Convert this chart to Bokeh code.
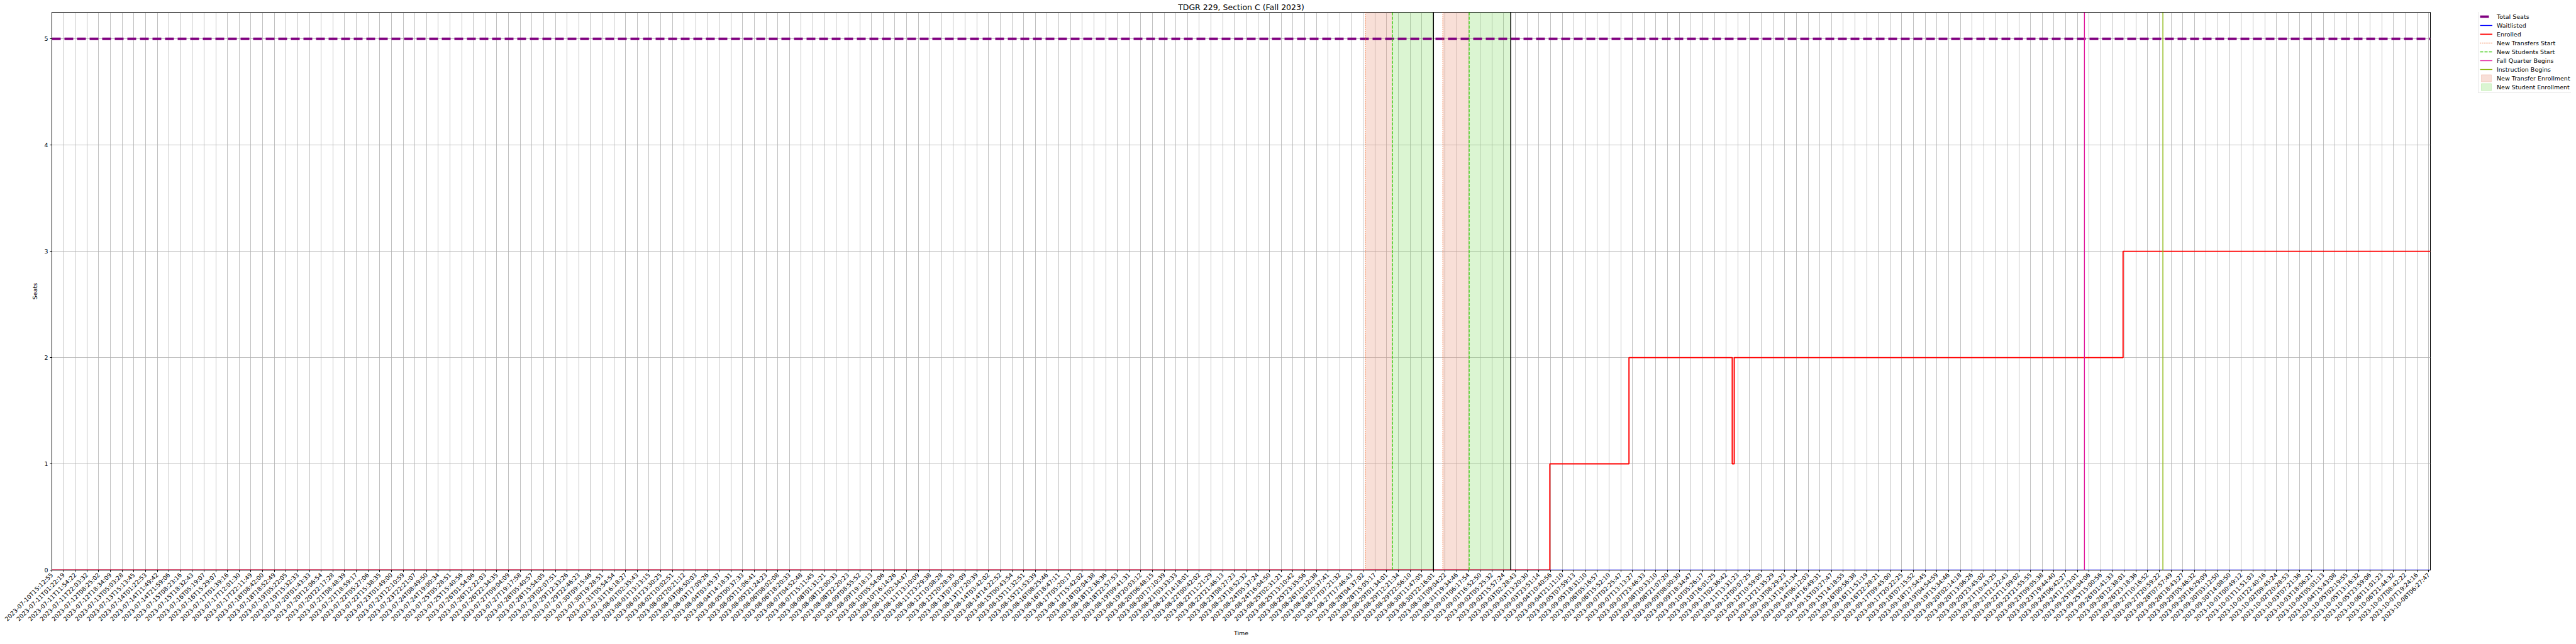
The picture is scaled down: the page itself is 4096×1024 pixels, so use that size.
import math
from bokeh.plotting import figure
from bokeh.layouts import row
from bokeh.models import (FixedTicker, Span, BoxAnnotation, Legend, LegendItem, Range1d)
from bokeh.embed import file_html
from bokeh.resources import INLINE

# ---------------- data ----------------
timestamps = [
    "2023-07-10T15:12:55", "2023-07-11T01:22:19", "2023-07-11T11:54:22", "2023-07-11T22:03:32",
    "2023-07-12T08:25:02", "2023-07-12T18:34:09", "2023-07-13T05:03:28", "2023-07-13T15:13:45",
    "2023-07-14T01:22:53", "2023-07-14T11:49:42", "2023-07-14T21:59:06", "2023-07-15T08:23:16",
    "2023-07-15T18:32:43", "2023-07-16T05:19:07", "2023-07-16T15:29:07", "2023-07-17T01:39:16",
    "2023-07-17T12:01:30", "2023-07-17T22:11:49", "2023-07-18T08:42:00", "2023-07-18T18:52:49",
    "2023-07-19T05:22:05", "2023-07-19T15:32:33", "2023-07-20T01:43:33", "2023-07-20T12:06:54",
    "2023-07-20T22:17:28", "2023-07-21T08:48:39", "2023-07-21T18:59:17", "2023-07-22T05:27:06",
    "2023-07-22T15:38:35", "2023-07-23T01:49:00", "2023-07-23T12:10:59", "2023-07-23T22:21:07",
    "2023-07-24T08:49:50", "2023-07-24T19:00:34", "2023-07-25T05:28:51", "2023-07-25T15:40:56",
    "2023-07-26T01:54:06", "2023-07-26T12:22:03", "2023-07-26T22:34:35", "2023-07-27T09:04:09",
    "2023-07-27T19:17:58", "2023-07-28T05:40:57", "2023-07-28T15:54:05", "2023-07-29T02:07:51",
    "2023-07-29T12:33:26", "2023-07-29T22:46:23", "2023-07-30T09:15:46", "2023-07-30T19:28:51",
    "2023-07-31T05:54:54", "2023-07-31T16:18:27", "2023-08-01T02:35:43", "2023-08-01T13:13:15",
    "2023-08-01T23:30:25", "2023-08-02T10:02:51", "2023-08-02T20:21:12", "2023-08-03T06:50:03",
    "2023-08-03T17:09:26", "2023-08-04T03:45:37", "2023-08-04T14:18:31", "2023-08-05T00:37:33",
    "2023-08-05T11:06:41", "2023-08-05T21:24:23", "2023-08-06T08:02:08", "2023-08-06T18:20:33",
    "2023-08-07T04:52:48", "2023-08-07T15:11:45", "2023-08-08T01:31:21", "2023-08-08T12:00:33",
    "2023-08-08T22:20:23", "2023-08-09T08:55:52", "2023-08-09T19:18:13", "2023-08-10T05:54:06",
    "2023-08-10T16:14:26", "2023-08-11T02:34:47", "2023-08-11T13:10:09", "2023-08-11T23:29:38",
    "2023-08-12T10:08:28", "2023-08-12T20:28:35", "2023-08-13T07:00:09", "2023-08-13T17:20:39",
    "2023-08-14T03:42:02", "2023-08-14T14:22:52", "2023-08-15T00:43:54", "2023-08-15T11:32:51",
    "2023-08-15T21:53:39", "2023-08-16T08:25:46", "2023-08-16T18:47:11", "2023-08-17T05:20:17",
    "2023-08-17T15:42:02", "2023-08-18T02:04:38", "2023-08-18T12:36:36", "2023-08-18T22:57:53",
    "2023-08-19T09:41:31", "2023-08-19T20:03:12", "2023-08-20T06:48:15", "2023-08-20T17:10:39",
    "2023-08-21T03:33:33", "2023-08-21T14:18:01", "2023-08-22T00:42:02", "2023-08-22T11:21:29",
    "2023-08-22T21:46:13", "2023-08-23T08:27:23", "2023-08-23T18:52:32", "2023-08-24T05:37:24",
    "2023-08-24T16:04:50", "2023-08-25T02:31:21", "2023-08-25T13:10:42", "2023-08-25T23:35:56",
    "2023-08-26T10:12:38", "2023-08-26T20:37:41", "2023-08-27T07:21:32", "2023-08-27T17:46:43",
    "2023-08-28T04:37:02", "2023-08-28T15:05:17", "2023-08-29T01:34:01", "2023-08-29T12:21:34",
    "2023-08-29T22:56:10", "2023-08-30T11:47:05", "2023-08-30T22:16:01", "2023-08-31T09:04:22",
    "2023-08-31T19:34:46", "2023-09-01T06:17:54", "2023-09-01T16:52:50", "2023-09-02T05:25:32",
    "2023-09-02T15:57:24", "2023-09-03T02:28:43", "2023-09-03T13:20:30", "2023-09-03T23:51:14",
    "2023-09-04T10:40:56", "2023-09-04T21:11:10", "2023-09-05T07:59:13", "2023-09-05T18:31:10",
    "2023-09-06T05:16:57", "2023-09-06T15:52:10", "2023-09-07T02:25:47", "2023-09-07T13:13:27",
    "2023-09-07T23:46:33", "2023-09-08T10:33:10", "2023-09-08T21:07:20", "2023-09-09T08:00:30",
    "2023-09-09T18:34:47", "2023-09-10T05:26:17", "2023-09-10T16:01:25", "2023-09-11T02:36:42",
    "2023-09-11T13:31:23", "2023-09-12T00:07:25", "2023-09-12T10:59:05", "2023-09-12T21:35:29",
    "2023-09-13T08:29:23", "2023-09-13T19:21:34", "2023-09-14T06:12:03", "2023-09-14T16:49:31",
    "2023-09-15T03:27:47", "2023-09-15T14:18:55", "2023-09-16T00:56:38", "2023-09-16T11:51:19",
    "2023-09-16T22:28:21", "2023-09-17T09:45:00", "2023-09-17T20:22:25", "2023-09-18T07:15:52",
    "2023-09-18T17:54:45", "2023-09-19T04:54:59", "2023-09-19T15:34:46", "2023-09-20T02:14:18",
    "2023-09-20T13:06:26", "2023-09-20T23:45:02", "2023-09-21T10:43:25", "2023-09-21T21:22:43",
    "2023-09-22T11:09:02", "2023-09-22T21:55:55", "2023-09-23T09:05:38", "2023-09-23T19:44:40",
    "2023-09-24T06:42:27", "2023-09-24T17:23:01", "2023-09-25T04:04:06", "2023-09-25T15:00:56",
    "2023-09-26T01:41:33", "2023-09-26T12:38:01", "2023-09-26T23:18:36", "2023-09-27T10:16:52",
    "2023-09-27T20:59:22", "2023-09-28T07:57:49", "2023-09-28T18:43:27", "2023-09-29T05:46:32",
    "2023-09-29T16:29:09", "2023-09-30T03:12:50", "2023-09-30T14:08:50", "2023-10-01T00:49:12",
    "2023-10-01T11:51:03", "2023-10-01T22:40:16", "2023-10-02T09:45:24", "2023-10-02T20:28:53",
    "2023-10-03T07:21:36", "2023-10-03T18:06:21", "2023-10-04T05:01:13", "2023-10-04T15:43:08",
    "2023-10-05T02:19:55", "2023-10-05T13:16:32", "2023-10-05T23:59:06", "2023-10-06T11:01:23",
    "2023-10-06T21:44:32", "2023-10-07T08:42:22", "2023-10-07T19:24:16", "2023-10-08T06:27:47",
]

# Enrolled / waitlisted counts as step series: value holds from each x until the next x
# (x in units of the snapshot axis positions)
enrolled_x = [0, 127.94, 134.7, 143.52, 143.69, 176.9, 203.15]
enrolled_y = [0, 1, 2, 1, 2, 3, 3]
waitlisted_x = [0, 203.15]
waitlisted_y = [0, 0]
total_seats = 5

# event positions, in x-axis index units (fractional positions between snapshots)
new_transfers_start = [112.2, 118.8]
new_students_start = [114.5, 121.05]
enrollment_window_end = [118.0, 124.6]
fall_quarter_begins = 173.6
instruction_begins = 180.3

y_ticks = [0, 1, 2, 3, 4, 5]

legend_labels = ["Total Seats", "Waitlisted", "Enrolled", "New Transfers Start",
                 "New Students Start", "Fall Quarter Begins", "Instruction Begins",
                 "New Transfer Enrollment", "New Student Enrollment"]

FONT = "DejaVu Sans"

# ---------------- main figure ----------------
x_ticks = list(range(len(timestamps)))

H = 1016
B_LEFT, B_RIGHT, B_TOP, B_BOTTOM = 82, 4, 18, 110
FRAME_W = 3782
FRAME_H = H - B_TOP - B_BOTTOM
W_MAIN = B_LEFT + FRAME_W + B_RIGHT
W_LEG = 4088 - W_MAIN

p = figure(
    width=W_MAIN, height=H,
    output_backend="svg", toolbar_location=None,
    x_range=Range1d(0, 203.15), y_range=Range1d(0, 5.25),
    min_border_left=B_LEFT, min_border_right=B_RIGHT, min_border_top=B_TOP, min_border_bottom=B_BOTTOM,
)
p.title.text = "TDGR 229, Section C (Fall 2023)"
p.title.align = "center"
p.title.text_font = FONT
p.title.text_font_size = "12.5px"
p.title.text_font_style = "normal"
p.title.text_color = "#000000"
p.title.standoff = 2

p.outline_line_color = "black"
p.outline_line_width = 1
p.outline_line_alpha = 1
p.background_fill_color = "white"
p.border_fill_color = "white"

# axes
p.xaxis.ticker = FixedTicker(ticks=x_ticks)
p.xaxis.major_label_overrides = {i: t for i, t in enumerate(timestamps)}
p.xaxis.major_label_orientation = math.pi / 4
p.yaxis.ticker = FixedTicker(ticks=y_ticks)
for ax in (p.xaxis[0], p.yaxis[0]):
    ax.major_label_text_font = FONT
    ax.major_label_text_font_size = "9.5px"
    ax.major_label_text_color = "#000000"
    ax.major_label_standoff = 3
    ax.major_tick_out = 3
    ax.major_tick_in = 0
    ax.minor_tick_out = 0
    ax.minor_tick_in = 0
    ax.axis_line_color = "black"
    ax.major_tick_line_color = "black"
    ax.axis_label_text_font = FONT
    ax.axis_label_text_font_size = "9.5px"
    ax.axis_label_text_font_style = "normal"
    ax.axis_label_text_color = "#000000"
p.xaxis.axis_label = "Time"
p.yaxis.axis_label = "Seats"
p.xaxis.axis_label_standoff = 4
p.yaxis.axis_label_standoff = 6

p.xgrid.grid_line_color = "#b0b0b0"
p.ygrid.grid_line_color = "#b0b0b0"
p.xgrid.grid_line_width = 0.8
p.ygrid.grid_line_width = 0.8

# colours / styles
C_PURPLE = "#800080"
C_BLUE = "#0000ff"
C_RED = "#ff0000"
C_ORANGE = "#F0682C"
C_GREEN = "#3DCC12"
C_MAGENTA = "#E0169B"
C_OLIVE = "#8DB814"
C_TRANSFER = "#E9967A"
C_STUDENT = "#7CDB5C"
DOT = "1 2"
DASH = "5 2"

# shaded windows
for a, b in zip(new_transfers_start, new_students_start):
    p.add_layout(BoxAnnotation(left=a, right=b, fill_color=C_TRANSFER, fill_alpha=0.3,
                               line_color=None, level="underlay"))
for a, b in zip(new_students_start, enrollment_window_end):
    p.add_layout(BoxAnnotation(left=a, right=b, fill_color=C_STUDENT, fill_alpha=0.28,
                               line_color=None, level="underlay"))

# data lines
p.line(x=[0, 203.15], y=[total_seats, total_seats], line_color=C_PURPLE,
       line_width=3.8, line_dash="14 6")
p.step(x=waitlisted_x, y=waitlisted_y, mode="after", line_color=C_BLUE, line_width=1.4)
p.step(x=enrolled_x, y=enrolled_y, mode="after", line_color=C_RED, line_width=1.9)

# vertical event lines
for v in new_transfers_start:
    p.add_layout(Span(location=v, dimension="height", line_color=C_ORANGE, line_width=1.4,
                      line_dash=DOT))
for v in new_students_start:
    p.add_layout(Span(location=v, dimension="height", line_color=C_GREEN, line_width=1.4,
                      line_dash=DASH))
for v in enrollment_window_end:
    p.add_layout(Span(location=v, dimension="height", line_color="black", line_width=1.5))
p.add_layout(Span(location=fall_quarter_begins, dimension="height", line_color=C_MAGENTA, line_width=1.4))
p.add_layout(Span(location=instruction_begins, dimension="height", line_color=C_OLIVE, line_width=1.4))

# ---------------- legend figure (outside the axes, to the right) ----------------
lf = figure(width=W_LEG, height=H, output_backend="svg", toolbar_location=None,
            x_range=Range1d(0, 1), y_range=Range1d(0, 1),
            x_axis_type=None, y_axis_type=None,
            min_border_left=0, min_border_right=0, min_border_top=B_TOP, min_border_bottom=B_BOTTOM)
lf.outline_line_color = None
lf.xgrid.visible = False
lf.ygrid.visible = False
lf.background_fill_color = "white"
lf.border_fill_color = "white"

nan = float("nan")
proxies = [
    lf.line(x=[nan], y=[nan], line_color=C_PURPLE, line_width=3.8, line_dash="14 6"),
    lf.line(x=[nan], y=[nan], line_color=C_BLUE, line_width=1.4),
    lf.line(x=[nan], y=[nan], line_color=C_RED, line_width=1.9),
    lf.line(x=[nan], y=[nan], line_color=C_ORANGE, line_width=1.4, line_dash=DOT),
    lf.line(x=[nan], y=[nan], line_color=C_GREEN, line_width=1.4, line_dash=DASH),
    lf.line(x=[nan], y=[nan], line_color=C_MAGENTA, line_width=1.4),
    lf.line(x=[nan], y=[nan], line_color=C_OLIVE, line_width=1.4),
    lf.quad(left=[nan], right=[nan], top=[nan], bottom=[nan], fill_color=C_TRANSFER,
            fill_alpha=0.3, line_color=C_TRANSFER, line_alpha=0.3),
    lf.quad(left=[nan], right=[nan], top=[nan], bottom=[nan], fill_color=C_STUDENT,
            fill_alpha=0.28, line_color=C_STUDENT, line_alpha=0.28),
]
legend = Legend(items=[LegendItem(label=lab, renderers=[r]) for lab, r in zip(legend_labels, proxies)])
LEG_H = 9 * 14 + 2 * 2
legend.location = (72, FRAME_H - LEG_H)
legend.label_text_font = FONT
legend.label_text_font_size = "9.5px"
legend.label_text_color = "#000000"
legend.glyph_width = 20
legend.glyph_height = 14
legend.label_height = 14
legend.label_standoff = 7
legend.spacing = 0
legend.padding = 2
legend.margin = 0
legend.border_line_color = "#d0d0d0"
legend.border_line_width = 1
legend.background_fill_alpha = 1
lf.add_layout(legend, "center")

layout = row(p, lf)
open("out.html", "w").write(file_html(layout, INLINE))
